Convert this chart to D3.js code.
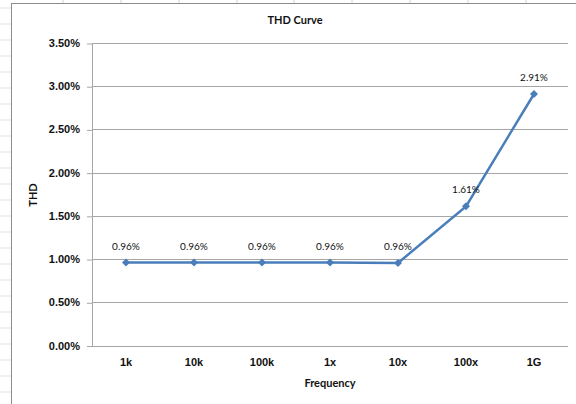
<!DOCTYPE html>
<html><head><meta charset="utf-8">
<script src="https://cdn.jsdelivr.net/npm/d3@7"></script>
<style>html,body{margin:0;padding:0;background:#fff;}svg{display:block;font-family:Lato,"Open Sans",sans-serif;}</style>
</head><body>
<script>
const categories = ["1k","10k","100k","1x","10x","100x","1G"];
const thdValues = [0.0096,0.0096,0.0096,0.0096,0.00955,0.0161,0.0291];
const dataLabels = ["0.96%","0.96%","0.96%","0.96%","0.96%","1.61%","2.91%"];
const yTicks = [0,0.005,0.01,0.015,0.02,0.025,0.03,0.035];
const title = "THD Curve", xTitle = "Frequency", yTitle = "THD";

const W=576,H=404;
const svg=d3.select("body").append("svg").attr("width",W).attr("height",H);
// spreadsheet background artefacts
const colXs=[63,121,179,237,294,352,410,468,526];
svg.selectAll(".cg").data(colXs).enter().append("line").attr("x1",d=>d).attr("x2",d=>d).attr("y1",0).attr("y2",3).attr("stroke","#d4d4d4");
const rowYs=d3.range(8,404,16);
svg.selectAll(".rg").data(rowYs).enter().append("line").attr("x1",0).attr("x2",11).attr("y1",d=>d).attr("y2",d=>d).attr("stroke","#e0e0e0");
// chart frame
svg.append("line").attr("x1",11).attr("x2",W).attr("y1",3.5).attr("y2",3.5).attr("stroke","#8c8c8c");
svg.append("line").attr("x1",11.5).attr("x2",11.5).attr("y1",3).attr("y2",H).attr("stroke","#8c8c8c");

const x=d3.scaleBand().domain(categories).range([92,568]);
const y=d3.scaleLinear().domain([0,0.035]).range([345.5,43]);

// gridlines
svg.append("g").selectAll("line").data(yTicks).enter().append("line")
  .attr("x1",92).attr("x2",568).attr("y1",d=>Math.round(y(d))+0.5).attr("y2",d=>Math.round(y(d))+0.5)
  .attr("stroke","#a6a6a6").attr("stroke-width",1);
// y axis line
svg.append("line").attr("x1",92.5).attr("x2",92.5).attr("y1",y(0.035)).attr("y2",y(0)+0.5).attr("stroke","#a6a6a6");

const yAxis=d3.axisLeft(y).tickValues(yTicks).tickFormat(d3.format(".2%")).tickSize(5).tickPadding(7);
const ga=svg.append("g").attr("transform","translate(92,0)").call(yAxis);
ga.select(".domain").remove();
ga.selectAll(".tick line").attr("stroke","#a6a6a6").attr("transform","translate(0,0.5)");
ga.selectAll("text").attr("font-size",11).attr("font-weight","bold").attr("fill","#111");

const xAxis=d3.axisBottom(x).tickSize(0).tickPadding(13);
const gx=svg.append("g").attr("transform","translate(0,345.5)").call(xAxis);
gx.select(".domain").remove();
gx.selectAll("text").attr("font-size",11).attr("font-weight","bold").attr("fill","#111");

const pts=categories.map((c,i)=>({c,v:thdValues[i],l:dataLabels[i]}));
const line=d3.line().x(d=>x(d.c)+x.bandwidth()/2).y(d=>y(d.v));
svg.append("path").datum(pts).attr("d",line).attr("fill","none").attr("stroke","#4a7ebb").attr("stroke-width",2.5);
const squareDiamond={draw(ctx,size){const r=Math.sqrt(size/2);ctx.moveTo(0,-r);ctx.lineTo(r,0);ctx.lineTo(0,r);ctx.lineTo(-r,0);ctx.closePath();}};
svg.selectAll(".mk").data(pts).enter().append("path")
  .attr("d",d3.symbol(squareDiamond,32))
  .attr("transform",d=>`translate(${x(d.c)+x.bandwidth()/2},${y(d.v)})`)
  .attr("fill","#4a7ebb");
svg.selectAll(".dl").data(pts).enter().append("text")
  .attr("x",d=>x(d.c)+x.bandwidth()/2).attr("y",d=>y(d.v)-13)
  .attr("text-anchor","middle").attr("font-size",10).attr("fill","#111").text(d=>d.l);

svg.append("text").attr("x",295).attr("y",24).attr("text-anchor","middle").attr("font-size",11).attr("font-weight","bold").attr("fill","#111").text(title);
svg.append("text").attr("x",330).attr("y",387).attr("text-anchor","middle").attr("font-size",11).attr("font-weight","bold").attr("fill","#111").text(xTitle);
svg.append("text").attr("transform","translate(37,195) rotate(-90)").attr("text-anchor","middle").attr("font-size",11).attr("font-weight","bold").attr("fill","#111").text(yTitle);
</script>
</body></html>
